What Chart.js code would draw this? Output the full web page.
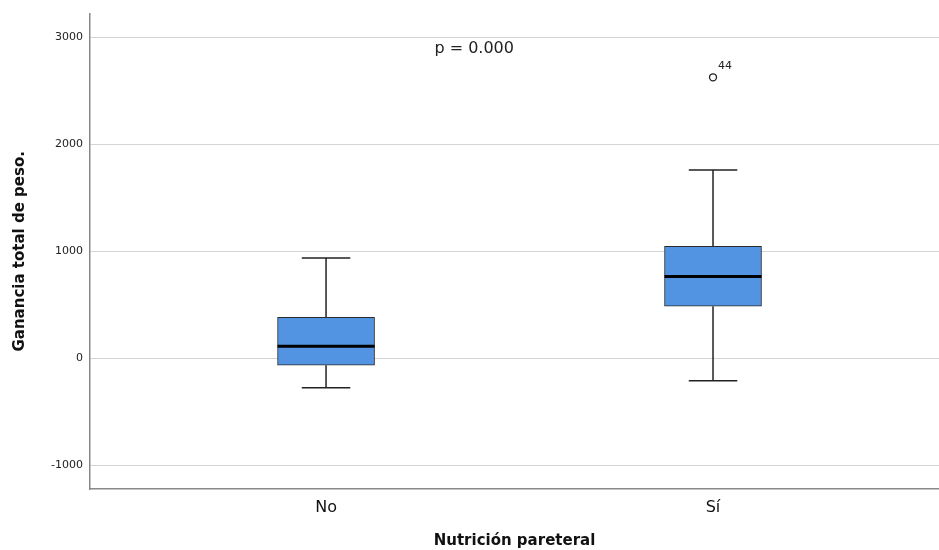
<!DOCTYPE html>
<html>
<head>
<meta charset="utf-8">
<script src="https://cdn.jsdelivr.net/npm/chart.js@4.4.1/dist/chart.umd.min.js"></script>
<style>
  html, body { margin: 0; padding: 0; background: #fff; }
  #wrap { width: 939px; height: 550px; }
</style>
</head>
<body>
<div id="wrap"><canvas id="box-chart"></canvas></div>
<script>
const categories = ['No', 'Sí'];
const whiskerLow = [-277, -211];
const q1 = [-65, 487];
const median = [112, 764];
const q3 = [382, 1047];
const whiskerHigh = [938, 1761];
const outlierCategory = [2];
const outlierValues = [2628];
const outlierLabels = ['44'];
const yTicks = [-1000, 0, 1000, 2000, 3000];
const pText = 'p = 0.000';

const FONT = '"DejaVu Sans", sans-serif';
const catPos = categories.map((_, i) => i + 1);

const boxExtras = {
  id: 'boxExtras',
  beforeDatasetsDraw(chart) {
    const { ctx, scales: { y } } = chart;
    const bars = chart.getDatasetMeta(0).data;
    ctx.save();
    ctx.strokeStyle = '#222';
    ctx.lineWidth = 1.5;
    bars.forEach((bar, i) => {
      const cx = bar.x;
      const half = bar.width / 4;
      [whiskerLow[i], whiskerHigh[i]].forEach((w, k) => {
        const edge = k === 0 ? q1[i] : q3[i];
        ctx.beginPath();
        ctx.moveTo(cx, y.getPixelForValue(w));
        ctx.lineTo(cx, y.getPixelForValue(edge));
        ctx.stroke();
        ctx.beginPath();
        ctx.moveTo(cx - half, y.getPixelForValue(w));
        ctx.lineTo(cx + half, y.getPixelForValue(w));
        ctx.stroke();
      });
    });
    ctx.restore();
  },
  afterDatasetsDraw(chart) {
    const { ctx, scales: { x, y } } = chart;
    const bars = chart.getDatasetMeta(0).data;
    ctx.save();
    ctx.strokeStyle = '#000';
    ctx.lineWidth = 3;
    bars.forEach((bar, i) => {
      const my = y.getPixelForValue(median[i]);
      ctx.beginPath();
      ctx.moveTo(bar.x - bar.width / 2, my);
      ctx.lineTo(bar.x + bar.width / 2, my);
      ctx.stroke();
    });
    ctx.fillStyle = '#222';
    ctx.font = '11px ' + FONT;
    ctx.textBaseline = 'middle';
    outlierValues.forEach((v, i) => {
      ctx.fillText(outlierLabels[i], x.getPixelForValue(outlierCategory[i]) + 5, y.getPixelForValue(v) - 11);
    });
    ctx.font = '16px ' + FONT;
    ctx.fillText(pText, x.getPixelForValue(1.28), y.getPixelForValue(2890));
    ctx.restore();
  }
};

new Chart(document.getElementById('box-chart').getContext('2d'), {
  data: {
    datasets: [
      {
        type: 'bar',
        data: catPos.map((c, i) => ({ x: c, y: [q1[i], q3[i]] })),
        backgroundColor: '#5294E2',
        borderColor: '#2a2a2a',
        borderWidth: 1,
        borderSkipped: false,
        barThickness: 97,
      },
      {
        type: 'scatter',
        data: outlierValues.map((v, i) => ({ x: outlierCategory[i], y: v })),
        pointStyle: 'circle',
        pointRadius: 3.5,
        backgroundColor: '#fff',
        borderColor: '#222',
        borderWidth: 1.3,
      },
    ],
  },
  options: {
    responsive: true,
    maintainAspectRatio: false,
    animation: false,
    layout: { autoPadding: false, padding: { top: 12, left: 0, right: 0, bottom: 0 } },
    plugins: {
      legend: { display: false },
      tooltip: { enabled: false },
    },
    scales: {
      x: {
        type: 'linear',
        offset: false,
        min: 0.39,
        max: 2.584,
        afterBuildTicks: s => { s.ticks = catPos.map(v => ({ value: v })); },
        afterFit: s => { s.height = 61; s.paddingLeft = 0; s.paddingRight = 0; },
        grid: { display: false, drawTicks: false, offset: false },
        border: { color: '#888', width: 1.5 },
        ticks: {
          padding: 9,
          color: '#111',
          font: { family: FONT, size: 16 },
          callback: v => categories[v - 1] ?? '',
        },
        title: {
          display: true,
          text: 'Nutrición pareteral',
          color: '#111',
          font: { family: FONT, size: 15, weight: 'bold' },
          padding: { top: 0, bottom: 0 },
        },
      },
      y: {
        min: -1224,
        max: 3224,
        afterBuildTicks: s => { s.ticks = yTicks.map(v => ({ value: v })); },
        afterFit: s => { s.width = 90; },
        grid: { color: '#d4d4d4', lineWidth: 1, drawTicks: false },
        border: { color: '#888', width: 1.5 },
        ticks: {
          padding: 7,
          color: '#222',
          font: { family: FONT, size: 11 },
          callback: v => String(v),
        },
        title: {
          display: true,
          text: 'Ganancia total de peso.',
          color: '#111',
          font: { family: FONT, size: 15, weight: 'bold' },
          padding: { top: 11, bottom: 0 },
        },
      },
    },
  },
  plugins: [boxExtras],
});
</script>
</body>
</html>
